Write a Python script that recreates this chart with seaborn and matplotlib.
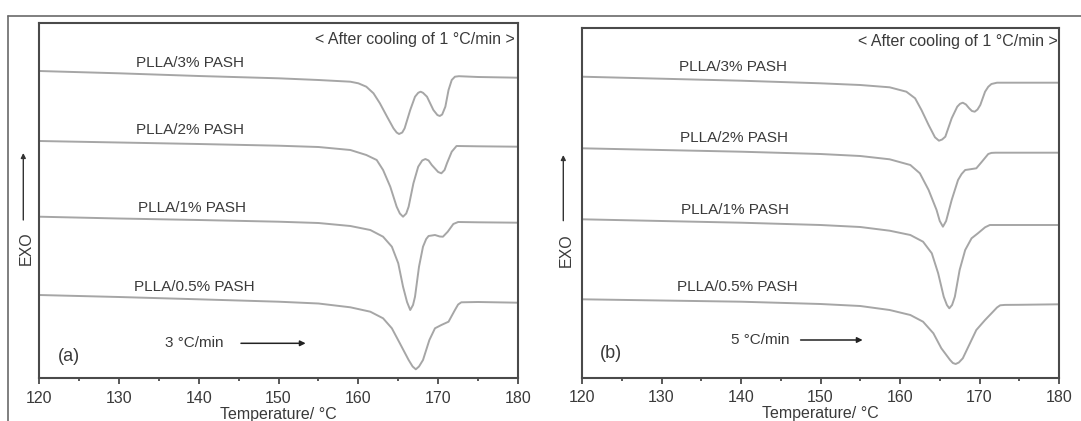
import matplotlib
matplotlib.use("Agg")
import matplotlib.pyplot as plt
from matplotlib.lines import Line2D
import seaborn as sns
import pandas as pd

# ---------------- data ----------------
# Temperature (°C) and signal (a.u., plotted on an inverted axis, larger = lower on page)
samples = ["PLLA/3% PASH", "PLLA/2% PASH", "PLLA/1% PASH", "PLLA/0.5% PASH"]

# panel (a): 3 °C/min
a_T_3 = [120, 130, 140, 150, 155, 159.0, 160.0, 161.0, 161.9, 162.7, 163.6, 164.4, 164.8, 165.1, 165.5, 165.8,
         166.5, 167.1, 167.5, 167.8, 168.1, 168.6, 169.4, 169.9, 170.2, 170.5, 170.9, 171.3, 171.7, 172.1, 172.6, 175, 180]
a_y_3 = [71, 73.3, 76, 78.3, 80, 81.7, 83.3, 86.7, 93.3, 103.3, 116.7, 128.3, 132.5, 134, 132.5, 128.3,
         110, 96.7, 92.8, 91.7, 92.8, 96.7, 110, 115, 116, 114.5, 106.7, 90, 80, 76.7, 76.2, 77, 77.7]
a_T_2 = [120, 130, 140, 150, 155, 159.0, 161.0, 162.3, 163.1, 164.0, 164.8, 165.2, 165.6, 166.0, 166.3, 166.9,
         167.5, 168.0, 168.4, 168.8, 169.2, 170.0, 170.4, 170.8, 171.1, 171.7, 172.3, 175, 180]
a_y_2 = [141, 142.5, 144, 145.7, 147, 150, 155, 160, 170, 186.7, 206.7, 213.5, 216.7, 213.5, 206.7, 183.3,
         166.7, 160.5, 159, 160.5, 165, 172, 173.3, 170, 163.3, 151.7, 146, 146.3, 146.7]
a_T_1 = [120, 130, 140, 150, 155, 159.0, 161.5, 163.1, 164.2, 165.0, 165.6, 166.1, 166.5, 166.85, 167.1, 167.6,
         168.1, 168.5, 168.8, 169.6, 170.2, 170.6, 171.2, 171.9, 172.5, 175, 180]
a_y_1 = [216.7, 218.5, 220, 221.7, 223, 226, 230, 236.7, 246.7, 263.3, 286.7, 302, 310, 305, 296.7, 266.7,
         246.7, 239, 236, 235, 236.5, 236.7, 231.7, 224, 222, 222.3, 222.7]
a_T_05 = [120, 130, 140, 150, 155, 159.0, 161.5, 163.1, 164.2, 165.2, 166.3, 166.8, 167.2, 167.6, 168.1, 168.9,
          169.6, 170.4, 171.3, 172.1, 172.5, 172.9, 175, 180]
a_y_05 = [295, 297, 299.3, 301.7, 303.5, 307.3, 311.7, 318.3, 328.3, 343.3, 360, 366.5, 369.3, 366.5, 360, 340,
          328.3, 325, 321.7, 310, 304.5, 302.3, 302, 302.7]

# panel (b): 5 °C/min
b_T_3 = [120, 130, 140, 150, 155, 158.7, 160.8, 161.9, 162.7, 163.6, 164.4, 164.9, 165.3, 165.7, 166.5, 167.2,
         167.55, 167.9, 168.3, 168.7, 169.05, 169.4, 169.75, 170.1, 170.7, 171.1, 171.5, 172.2, 175, 180]
b_y_3 = [76.7, 78.7, 80.7, 83.3, 85, 87.3, 91.7, 98.3, 110, 125, 137.3, 140.7, 139.5, 136.7, 118.3, 106.7,
         103.8, 102.7, 104.5, 108.3, 111, 111.7, 109.5, 105, 91.7, 86.8, 84, 82.7, 82.7, 82.7]
b_T_2 = [120, 130, 140, 150, 155, 158.7, 161.3, 162.5, 163.6, 164.6, 165.0, 165.4, 165.8, 166.5, 167.3, 167.75,
         168.2, 168.8, 169.6, 170.3, 171.1, 171.5, 172.0, 175, 180]
b_y_2 = [148.3, 150, 151.7, 154, 156, 159.3, 165, 173.3, 190, 210, 221, 226.7, 221, 200, 180, 174,
         170, 169.3, 168.3, 161.7, 154, 152.9, 152.7, 152.7, 152.7]
b_T_1 = [120, 130, 140, 150, 155, 158.7, 161.3, 162.9, 164.0, 164.8, 165.5, 165.9, 166.2, 166.55, 166.9, 167.5,
         168.2, 169.0, 169.8, 170.7, 171.3, 175, 180]
b_y_1 = [219.3, 221, 222.7, 225, 227, 230.7, 235, 241.7, 253.3, 273.3, 296.7, 305, 308.3, 305, 296.7, 270,
         250, 238.3, 233.3, 227.3, 225, 225, 225]
b_T_05 = [120, 130, 140, 150, 155, 158.7, 161.3, 162.9, 164.2, 165.2, 166.3, 166.65, 167.0, 167.4, 167.9, 168.8,
          169.6, 170.7, 171.7, 172.2, 172.6, 173.2, 175, 180]
b_y_05 = [299.3, 300.5, 301.7, 304, 306, 310, 315, 321.7, 333.3, 348.3, 360, 363, 364, 362.5, 358.3, 343.3,
          330, 320, 311.7, 307.5, 305.3, 304.9, 304.8, 304.3]

x_ticks = [120, 130, 140, 150, 160, 170, 180]
x_label = "Temperature/ °C"
y_label = "EXO"
note = "< After cooling of 1 °C/min >"
rates = ["3 °C/min", "5 °C/min"]
panel_tags = ["(a)", "(b)"]

# ---------------- build frames ----------------
def frame(curves):
    rows = []
    for name, T, y in curves:
        for t, v in zip(T, y):
            rows.append({"sample": name, "T": t, "signal": v})
    return pd.DataFrame(rows)

df_a = frame([(samples[0], a_T_3, a_y_3), (samples[1], a_T_2, a_y_2),
              (samples[2], a_T_1, a_y_1), (samples[3], a_T_05, a_y_05)])
df_b = frame([(samples[0], b_T_3, b_y_3), (samples[1], b_T_2, b_y_2),
              (samples[2], b_T_1, b_y_1), (samples[3], b_T_05, b_y_05)])

# ---------------- style ----------------
sns.set_theme(style="white")
plt.rcParams["font.family"] = ["Liberation Sans", "DejaVu Sans"]
TXT = "#3a3a3a"
LINE = "#a6a6a6"
SPINE = "#4a4a4a"

W, H = 1081, 421
fig = plt.figure(figsize=(W / 100, H / 100), dpi=100)

def fx(px):
    return px / W

def fy(py):
    return 1 - py / H

panels = [
    dict(df=df_a, box=(39, 23.3, 518, 378.3),
         note_xy=(179.6, 39.3), lab_xy=[(132.1, 62.7), (132.1, 130), (132.4, 208.3), (131.9, 286.7)],
         rate_xy=(135.8, 343.3), arrow=(145.3, 153.4), tag_xy=(122.4, 356.7),
         exo=(26, 248), exo_arrow=(23.3, 220, 153)),
    dict(df=df_b, box=(582, 28.3, 1059, 377.7),
         note_xy=(179.9, 41.7), lab_xy=[(132.2, 66.7), (132.3, 137.7), (132.5, 210), (131.9, 287.3)],
         rate_xy=(138.7, 340), arrow=(147.5, 155.3), tag_xy=(122.3, 353.3),
         exo=(566, 250), exo_arrow=(563.3, 220.7, 155)),
]

for i, p in enumerate(panels):
    l, t, r, b = p["box"]
    ax = fig.add_axes([fx(l), fy(b), fx(r - l), (b - t) / H])
    sns.lineplot(data=p["df"], x="T", y="signal", hue="sample", units="sample",
                 estimator=None, sort=False, palette=[LINE] * 4, linewidth=1.4,
                 legend=False, ax=ax)
    ax.set_xlim(120, 180)
    ax.set_ylim(b, t)  # inverted: same scale as page pixels
    ax.set_yticks([])
    ax.set_xticks(x_ticks)
    ax.set_xticks([125, 135, 145, 155, 165, 175], minor=True)
    ax.tick_params(axis="x", which="major", direction="out", length=4.5, width=1.3,
                   color=SPINE, labelsize=11.5, labelcolor=TXT, pad=4.5, bottom=True)
    ax.tick_params(axis="x", which="minor", direction="out", length=2.5, width=1.3,
                   color=SPINE, bottom=True)
    for s in ax.spines.values():
        s.set_color(SPINE)
        s.set_linewidth(1.5)
    ax.set_xlabel(x_label, fontsize=11.5, color=TXT, labelpad=0.8)
    ax.set_ylabel("")

    ax.text(*p["note_xy"], note, ha="right", va="center", fontsize=11.5, color=TXT)
    for name, (x, y) in zip(samples, p["lab_xy"]):
        ax.text(x, y, name, ha="left", va="center", fontsize=11, color=TXT)
    ax.text(*p["rate_xy"], rates[i], ha="left", va="center", fontsize=11, color=TXT)
    ax.annotate("", xy=(p["arrow"][1], p["rate_xy"][1]), xytext=(p["arrow"][0], p["rate_xy"][1]),
                arrowprops=dict(arrowstyle="-|>", color="#222222", lw=1.1,
                                mutation_scale=8, shrinkA=0, shrinkB=0))
    ax.text(*p["tag_xy"], panel_tags[i], ha="left", va="center", fontsize=13, color=TXT)

    ex, ey = p["exo"]
    fig.text(fx(ex), fy(ey), y_label, rotation=90, ha="center", va="center",
             fontsize=11.5, color=TXT)
    axx, y0, y1 = p["exo_arrow"]
    fig.add_artist(matplotlib.patches.FancyArrowPatch(
        (fx(axx), fy(y0)), (fx(axx), fy(y1)), transform=fig.transFigure,
        arrowstyle="-|>", mutation_scale=7, color="#333333", lw=1.0,
        shrinkA=0, shrinkB=0))

# outer crop frame of the source picture
fig.add_artist(Line2D([fx(8.3), 1.0], [fy(15.7), fy(15.7)], transform=fig.transFigure,
                      color="#6a6a6a", lw=1.2))
fig.add_artist(Line2D([fx(8.3), fx(8.3)], [fy(15.7), 0.0], transform=fig.transFigure,
                      color="#6a6a6a", lw=1.2))

fig.savefig("out.png", dpi=100)
